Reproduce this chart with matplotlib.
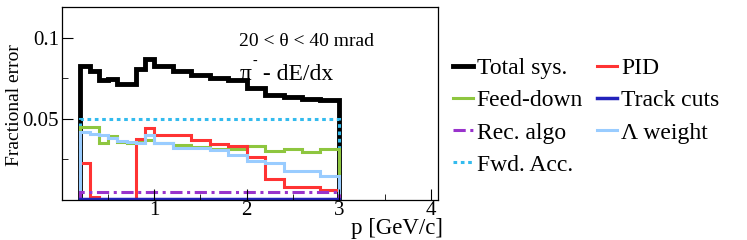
# Fractional systematic errors vs momentum, pi- dE/dx, 20 < theta < 40 mrad

import matplotlib.pyplot as plt

plt.rcParams['font.family'] = ['Liberation Serif', 'DejaVu Serif']

# bin edges in p [GeV/c]
edges = [0.2, 0.3, 0.4, 0.5, 0.6, 0.7, 0.8, 0.9, 1.0,
         1.2, 1.4, 1.6, 1.8, 2.0, 2.2, 2.4, 2.6, 2.8, 3.0]

total_sys = [0.0823, 0.0792, 0.0741, 0.0747, 0.0716, 0.0716, 0.0807, 0.0868, 0.0823,
             0.0796, 0.0772, 0.0749, 0.0740, 0.0690, 0.0648, 0.0632, 0.0623, 0.0617]
pid = [0.0225, 0.0018, 0.0, 0.0, 0.0, 0.0, 0.0375, 0.0442, 0.0400,
       0.0400, 0.0370, 0.0344, 0.0330, 0.0267, 0.0128, 0.0082, 0.0082, 0.0062]
feed_down = [0.0450, 0.0450, 0.0350, 0.0395, 0.0360, 0.0350, 0.0360, 0.0370, 0.0350,
             0.0340, 0.0329, 0.0315, 0.0315, 0.0330, 0.0304, 0.0315, 0.0298, 0.0313]
lambda_weight = [0.0416, 0.0405, 0.0400, 0.0380, 0.0366, 0.0360, 0.0354, 0.0400, 0.0354,
                 0.0323, 0.0319, 0.0309, 0.0278, 0.0237, 0.0226, 0.0179, 0.0179, 0.0148]
track_cuts = [0.0004] * 18
rec_algo = [0.0047] * 18
fwd_acc = [0.050] * 18

fig = plt.figure(figsize=(7.47, 2.40), dpi=100)
ax = fig.add_axes([0.083, 0.167, 0.503, 0.804])

h_total = ax.stairs(total_sys, edges, baseline=0, color='black', lw=3.5, label='Total sys.')
h_fwd = ax.stairs(fwd_acc, edges, baseline=0, color='#33bbee', lw=2.2, ls=(0, (1.2, 1.2)), label='Fwd. Acc.')
h_feed = ax.stairs(feed_down, edges, baseline=0, color='#8ec63f', lw=2.2, label='Feed-down')
h_pid = ax.stairs(pid, edges, baseline=0, color='#ff3333', lw=2.2, label='PID')
h_lam = ax.stairs(lambda_weight, edges, baseline=0, color='#99ccff', lw=2.2, label='Λ weight')
h_rec = ax.stairs(rec_algo, edges, baseline=0, color='#9933cc', lw=2.2, ls=(0, (4, 1.5, 1, 1.5)), label='Rec. algo')
h_trk = ax.stairs(track_cuts, edges, baseline=0, color='#2222bb', lw=2.5, label='Track cuts')

ax.set_xlim(0, 4.07)
ax.set_ylim(0, 0.119)
ax.set_xticks([1, 2, 3, 4])
ax.set_xticks([0.5, 1.5, 2.5, 3.5], minor=True)
ax.set_yticks([0.05, 0.1])
ax.set_yticklabels(['0.05', '0.1'])
ax.set_yticks([0.025, 0.075], minor=True)
ax.tick_params(which='both', direction='in', labelsize=15, top=False, right=False)
ax.tick_params(which='major', length=8)
ax.tick_params(which='minor', length=4)
ax.tick_params(axis='y', pad=2)
ax.tick_params(axis='x', pad=0.5)
for s in ax.spines.values():
    s.set_linewidth(0.9)

ax.set_ylabel('Fractional error', fontsize=14)
ax.yaxis.set_label_coords(-0.104, 0.49)
ax.set_xlabel('p [GeV/c]', fontsize=16.5)
ax.xaxis.set_label_coords(1.013, -0.093)
ax.xaxis.label.set_horizontalalignment('right')

ax.text(0.47, 0.80, '20 < θ < 40 mrad', transform=ax.transAxes, fontsize=14)
ax.text(0.473, 0.62, 'π', transform=ax.transAxes, fontsize=17)
ax.text(0.508, 0.70, '-', transform=ax.transAxes, fontsize=10)
ax.text(0.52, 0.62, ' - dE/dx', transform=ax.transAxes, fontsize=17)

handles = [h_total, h_feed, h_rec, h_fwd, h_pid, h_trk, h_lam]
fig.legend(handles=handles, labels=[h.get_label() for h in handles],
           ncol=2, loc='upper left', bbox_to_anchor=(0.5776, 0.848),
           frameon=False, fontsize=17, handlelength=0.85, handletextpad=0.17,
           columnspacing=0.6, labelspacing=0.45)

fig.savefig('out.png', dpi=100)
